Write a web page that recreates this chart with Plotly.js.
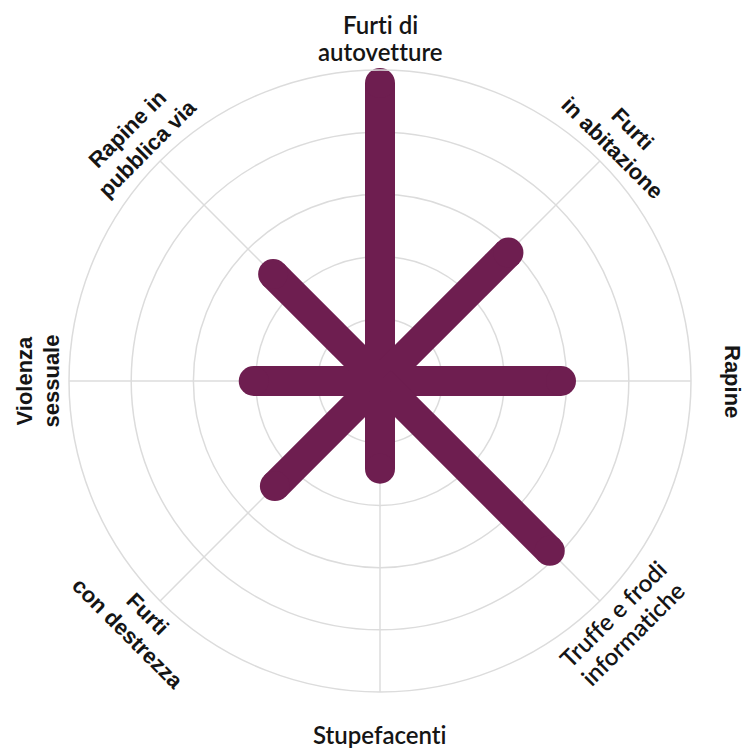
<!DOCTYPE html>
<html>
<head>
<meta charset="utf-8">
<script src="https://cdn.plot.ly/plotly-3.0.1.min.js"></script>
<style>
html,body{margin:0;padding:0;background:#fff;}
svg text{font-variant-ligatures:none;font-feature-settings:"liga" 0;}
</style>
</head>
<body>
<div id="chart" style="width:751px;height:748px;"></div>
<script>
// Categories (clockwise from top)
const categories = [
  "Furti di autovetture",
  "Furti in abitazione",
  "Rapine",
  "Truffe e frodi informatiche",
  "Stupefacenti",
  "Furti con destrezza",
  "Violenza sessuale",
  "Rapine in pubblica via"
];
// Label lines as drawn in the chart
const labelLines = [
  ["Furti di", "autovetture"],
  ["Furti", "in abitazione"],
  ["Rapine"],
  ["Truffe e frodi", "informatiche"],
  ["Stupefacenti"],
  ["Furti", "con destrezza"],
  ["Violenza", "sessuale"],
  ["Rapine in", "pubblica via"]
];
// Values (radial units; outer ring = 5)
const values = [4.79, 2.92, 2.91, 3.86, 1.41, 2.39, 2.03, 2.43];
const ringTicks = [1, 2, 3, 4];

const barColor = "#6e1e50";
const gridColor = "#dcdcdc";
const W = 751, H = 748;
const margin = {l: 69, r: 60, t: 70, b: 56};
const plotSize = W - margin.l - margin.r; // 622

const r = [], theta = [], msize = [];
categories.forEach((c, i) => {
  r.push(0, values[i], null);
  theta.push(c, c, null);
  msize.push(0, 30, 0);
});

const trace = {
  type: "scatterpolar",
  mode: "lines+markers",
  r: r,
  theta: theta,
  connectgaps: false,
  line: {color: barColor, width: 30},
  marker: {color: barColor, size: msize, opacity: 1, line: {width: 0}},
  opacity: 1,
  hoverinfo: "skip",
  showlegend: false
};

// Labels around the circle
const lineGap = 27;  // px between lines
const annotations = [];
const horizontalFont = "Lato, 'Noto Sans', sans-serif";
const rotatedFont = "'Liberation Sans', Arial, sans-serif";
categories.forEach((c, i) => {
  const phi = i * 360 / categories.length;
  let ta;
  if (phi <= 90) ta = phi; else if (phi < 270) ta = phi - 180; else ta = phi - 360;
  const lines = labelLines[i];
  const n = lines.length;
  const labelR = n > 1 ? 343 : 353; // px from centre to label centre
  const pr = phi * Math.PI / 180, tr = ta * Math.PI / 180;
  const cx = labelR * Math.sin(pr);
  const cy = -labelR * Math.cos(pr); // screen y down
  const down = [-Math.sin(tr), Math.cos(tr)];
  const horiz = (ta === 0 || phi === 135);
  const fam = horiz ? horizontalFont : rotatedFont;
  lines.forEach((txt, k) => {
    const off = (k - (n - 1) / 2) * lineGap;
    const px = cx + off * down[0];
    const py = cy + off * down[1];
    annotations.push({
      text: txt,
      xref: "paper", yref: "paper",
      x: 0.5 + px / plotSize,
      y: 0.5 - py / plotSize,
      xanchor: "center", yanchor: "middle",
      showarrow: false,
      textangle: ta,
      font: {family: fam, size: horiz ? 24 : 22, weight: 600, color: "#151515"}
    });
  });
});

const layout = {
  width: W, height: H,
  margin: margin,
  paper_bgcolor: "#fff",
  plot_bgcolor: "#fff",
  showlegend: false,
  polar: {
    domain: {x: [0, 1], y: [0, 1]},
    bgcolor: "#fff",
    angularaxis: {
      type: "category",
      categoryarray: categories,
      direction: "clockwise",
      rotation: 90,
      showticklabels: false,
      ticks: "",
      showgrid: true,
      gridcolor: gridColor,
      gridwidth: 1.5,
      showline: true,
      linecolor: gridColor,
      linewidth: 1.5
    },
    radialaxis: {
      range: [0, 5],
      tickvals: ringTicks,
      showticklabels: false,
      ticks: "",
      showline: false,
      showgrid: true,
      gridcolor: gridColor,
      gridwidth: 1.5
    }
  },
  annotations: annotations
};

Plotly.newPlot("chart", [trace], layout, {displayModeBar: false, staticPlot: true});
</script>
</body>
</html>
